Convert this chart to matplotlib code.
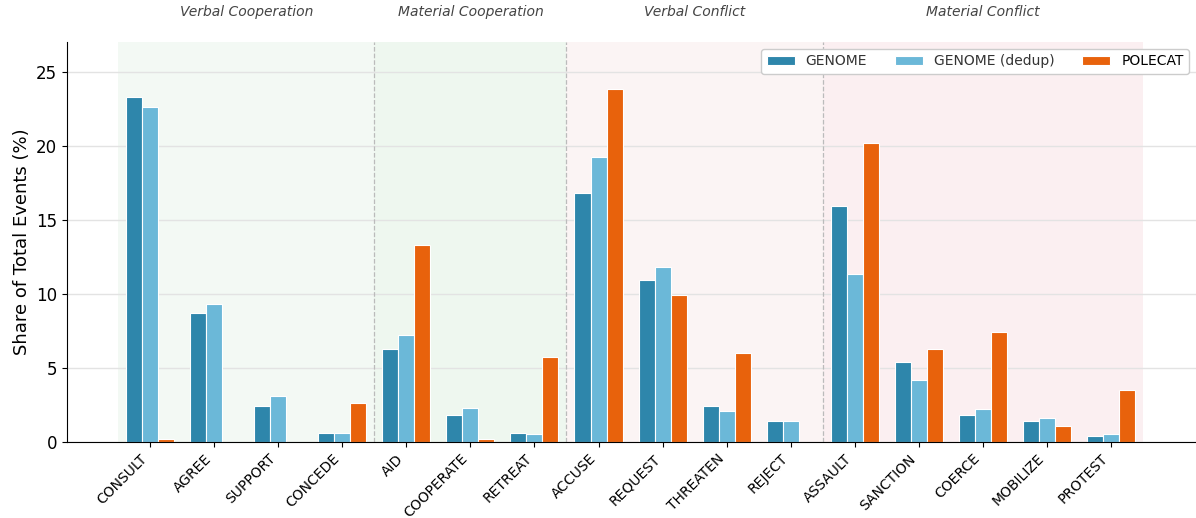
import numpy as np
import matplotlib.pyplot as plt

categories = ["CONSULT", "AGREE", "SUPPORT", "CONCEDE", "AID", "COOPERATE", "RETREAT",
              "ACCUSE", "REQUEST", "THREATEN", "REJECT", "ASSAULT", "SANCTION",
              "COERCE", "MOBILIZE", "PROTEST"]
genome = [23.3, 8.7, 2.4, 0.6, 6.3, 1.8, 0.6, 16.8, 10.9, 2.4, 1.4, 15.9, 5.4, 1.8, 1.4, 0.4]
genome_dedup = [22.6, 9.3, 3.1, 0.6, 7.2, 2.3, 0.5, 19.2, 11.8, 2.1, 1.4, 11.3, 4.2, 2.2, 1.6, 0.5]
polecat = [0.2, 0.0, 0.0, 2.6, 13.3, 0.2, 5.7, 23.8, 9.9, 6.0, 0.0, 20.2, 6.3, 7.4, 1.1, 3.5]

quad_names = ["Verbal Cooperation", "Material Cooperation", "Verbal Conflict", "Material Conflict"]
quad_sizes = [4, 3, 4, 5]
quad_colors = ["#f3f9f4", "#eef7ef", "#fbf4f4", "#fbeff1"]

fig = plt.figure(figsize=(11.96, 5.18), dpi=100)
ax = fig.add_axes([0.056, 0.147, 0.944, 0.772])

x = np.arange(len(categories))
w = 0.25

# quadrant shading
start = -0.5
for i, (name, n) in enumerate(zip(quad_names, quad_sizes)):
    ax.axvspan(start, start + n, color=quad_colors[i], zorder=0, lw=0)
    ax.text(start + n / 2, 1.075, name, transform=ax.get_xaxis_transform(),
            ha="center", va="center", style="italic", fontsize=10, color="#444444")
    if i > 0:
        ax.axvline(start, color="#bbbbbb", ls="--", lw=0.9, zorder=1)
    start += n

ax.yaxis.grid(True, color="#e3e3e3", lw=1, zorder=0.5)
ax.set_axisbelow(True)

ax.bar(x - w, genome, w, color="#2e86ab", edgecolor="white", lw=0.8, label="GENOME", zorder=2)
ax.bar(x, genome_dedup, w, color="#6bb8d8", edgecolor="white", lw=0.8, label="GENOME (dedup)", zorder=2)
ax.bar(x + w, polecat, w, color="#e8620c", edgecolor="white", lw=0.8, label="POLECAT", zorder=2)

ax.set_xticks(x)
ax.set_xticklabels(categories, rotation=45, ha="right", fontsize=10)
ax.tick_params(axis="y", labelsize=12)
ax.set_xlim(-1.3, 16.33)
ax.set_ylim(0, 27)
ax.set_yticks([0, 5, 10, 15, 20, 25])
ax.set_ylabel("Share of Total Events (%)", fontsize=13)

for s in ["top", "right"]:
    ax.spines[s].set_visible(False)

leg = ax.legend(loc="upper right", ncol=3, fontsize=10, framealpha=1, edgecolor="#cccccc")
for t in leg.get_texts()[:2]:
    t.set_color("#333333")

fig.savefig("out.png", dpi=100)
